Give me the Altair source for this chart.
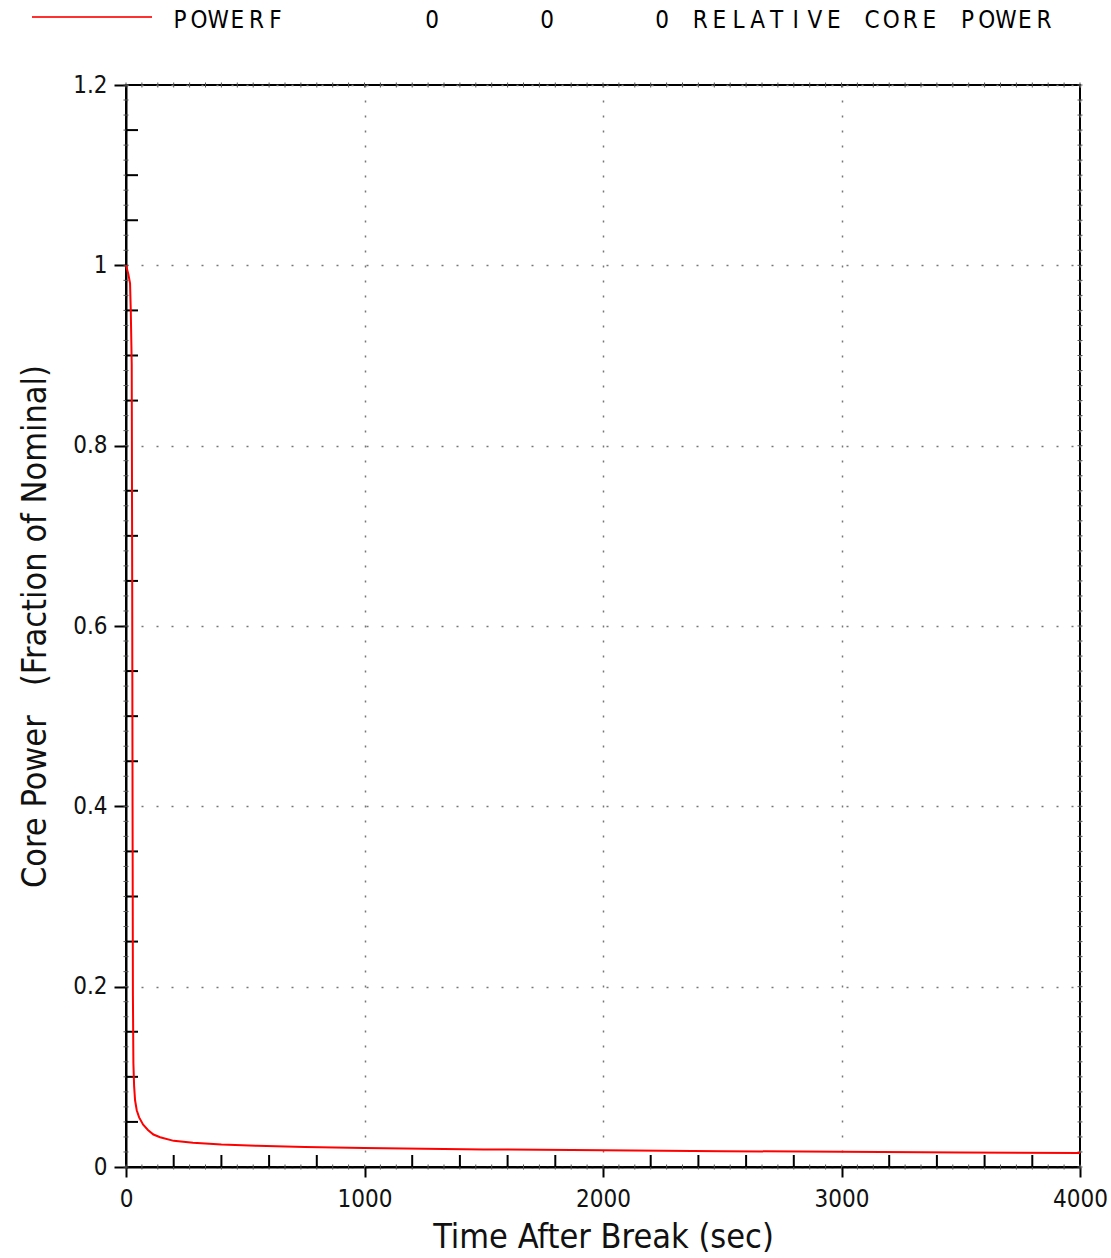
import altair as alt
import pandas as pd

# ---- data ----
time_s = [0, 5, 10, 17, 20, 24, 26, 27.5, 29, 31, 34, 38, 45, 55, 72, 92, 115, 143,
          200, 281, 400, 549, 750, 1000, 1500, 2000, 2500, 3000, 3500, 4000]
power = [1.0, 0.995, 0.99, 0.98, 0.95, 0.89, 0.65, 0.40, 0.19, 0.115, 0.09, 0.074,
         0.063, 0.055, 0.047, 0.041, 0.036, 0.033, 0.029, 0.027, 0.025, 0.0235,
         0.0222, 0.021, 0.0195, 0.0185, 0.0175, 0.017, 0.016, 0.0155]

x_major = [0, 1000, 2000, 3000, 4000]
y_major = [0, 0.2, 0.4, 0.6, 0.8, 1.0, 1.2]
x_minor = [v for v in range(200, 4000, 200) if v % 1000 != 0]
y_minor = [round(i * 0.05, 3) for i in range(1, 24) if i % 4 != 0]
x_tiny = [i * 200 / 3 for i in range(0, 61)]
y_tiny = [i * 0.05 / 3 for i in range(0, 73)]

# legend: text segments and the page x of the centre of their first character
legend_segments = ["POWERF", "0", "0", "0 RELATIVE CORE POWER"]
legend_starts = [180, 432, 547, 662]
CHAR_PITCH = 19.1

W, H = 954, 1082
FONT = "DejaVu Sans Condensed, Liberation Sans Narrow, DejaVu Sans, sans-serif"

xs = alt.Scale(domain=[0, 4000], nice=False, zero=False)
ys = alt.Scale(domain=[0, 1.2], nice=False, zero=False)

df = pd.DataFrame({"t": time_s, "p": power})

line = alt.Chart(df).mark_line(color="#ff0000", strokeWidth=2).encode(
    x=alt.X("t:Q", scale=xs, title="Time After Break (sec)",
            axis=alt.Axis(values=x_major, format="d", grid=True)),
    y=alt.Y("p:Q", scale=ys, title="Core Power\u00a0\u00a0\u00a0(Fraction of Nominal)",
            axis=alt.Axis(values=y_major, format="~g", grid=True, tickSize=12)),
)

ymin_df = pd.DataFrame({"y": y_minor})
xmin_df = pd.DataFrame({"x": x_minor})
xt_df = pd.DataFrame({"x": x_tiny})
yt_df = pd.DataFrame({"y": y_tiny})

y_minor_rules = alt.Chart(ymin_df).mark_rule(color="black", strokeWidth=2).encode(
    y=alt.Y("y:Q", scale=ys), x=alt.value(0), x2=alt.value(12))
x_minor_rules = alt.Chart(xmin_df).mark_rule(color="black", strokeWidth=2).encode(
    x=alt.X("x:Q", scale=xs), y=alt.value(H), y2=alt.value(H - 12))

tiny_style = dict(color="#555", strokeWidth=1)
x_tiny_bottom = alt.Chart(xt_df).mark_rule(**tiny_style).encode(
    x=alt.X("x:Q", scale=xs), y=alt.value(H - 2.5), y2=alt.value(H + 2.5))
x_tiny_top = alt.Chart(xt_df).mark_rule(**tiny_style).encode(
    x=alt.X("x:Q", scale=xs), y=alt.value(-2.5), y2=alt.value(2.5))
y_tiny_left = alt.Chart(yt_df).mark_rule(**tiny_style).encode(
    y=alt.Y("y:Q", scale=ys), x=alt.value(-2.5), x2=alt.value(2.5))
y_tiny_right = alt.Chart(yt_df).mark_rule(**tiny_style).encode(
    y=alt.Y("y:Q", scale=ys), x=alt.value(W - 2.5), x2=alt.value(W + 2.5))

leg_line = alt.Chart(pd.DataFrame({"k": [0]})).mark_rule(
    color="#ff3030", strokeWidth=2).encode(
    x=alt.value(-94), x2=alt.value(26), y=alt.value(-68))

plot = alt.layer(x_tiny_bottom, x_tiny_top, y_tiny_left, y_tiny_right,
                 y_minor_rules, x_minor_rules, line, leg_line)

rows = []
for seg, start in zip(legend_segments, legend_starts):
    for k, ch in enumerate(seg):
        if ch != " ":
            rows.append({"c": ch, "px": start + k * CHAR_PITCH})
chars = pd.DataFrame(rows)

leg_text = alt.Chart(chars).mark_text(
    font=FONT, fontSize=24, align="center", baseline="alphabetic", color="black"
).encode(
    x=alt.X("px:Q", scale=alt.Scale(domain=[0, 1111], range=[-126, 985]), axis=None),
    y=alt.value(-57),
    text="c:N",
)

chart = alt.layer(plot, leg_text).resolve_scale(x="independent").properties(
    width=W, height=H,
    autosize=alt.AutoSizeParams(type="none"),
    padding={"left": 126, "top": 85, "right": 31, "bottom": 91},
).configure_view(stroke="black", strokeWidth=2).configure_axis(
    domainColor="black", domainWidth=2, tickColor="black", tickWidth=2, tickSize=10,
    labelFont=FONT, labelFontSize=24, labelColor="#111", labelPadding=10,
    titleFont=FONT, titleFontSize=34, titleFontWeight="normal", titleColor="#111",
    gridColor="#777", gridDash=[2, 13], gridWidth=1.5,
).configure_axisX(titlePadding=9, labelFlush=False).configure_axisY(
    titlePadding=20, labelPadding=7)

chart.save("out.html", embed_options={"renderer": "svg", "actions": False})
